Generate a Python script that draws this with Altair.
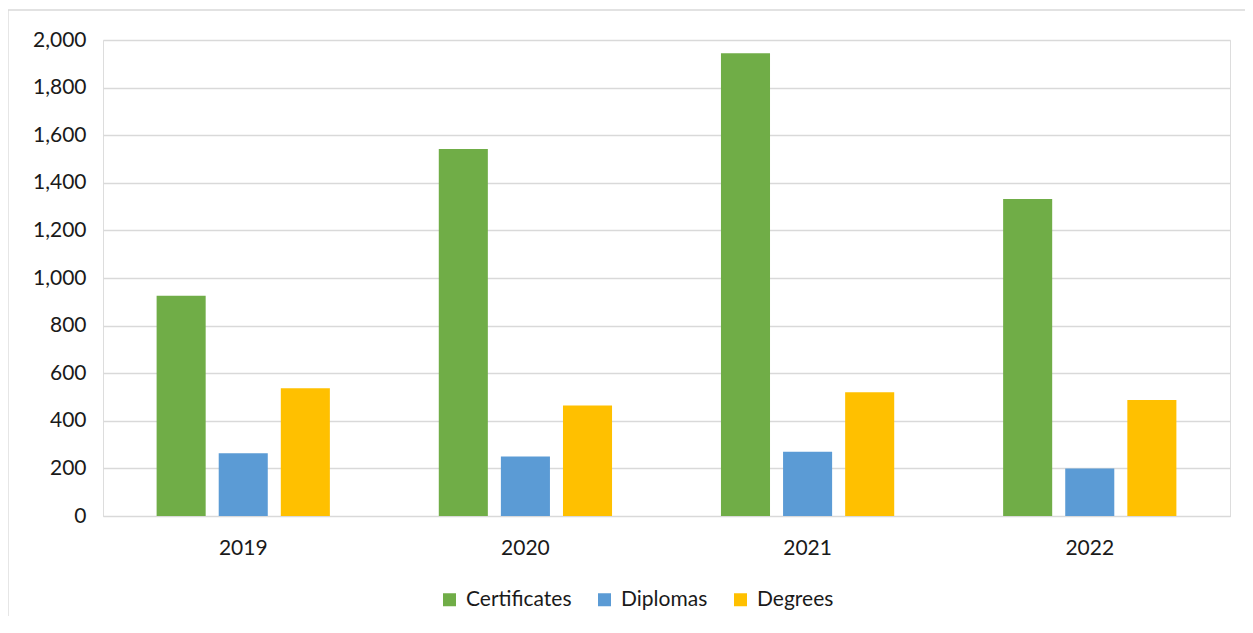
import altair as alt
import pandas as pd

years = ["2019", "2020", "2021", "2022"]
series = ["Certificates", "Diplomas", "Degrees"]
certificates = [925, 1542, 1944, 1332]
diplomas = [264, 250, 270, 200]
degrees = [537, 464, 520, 487]
colors = ["#70AD47", "#5B9BD5", "#FFC000"]

rows = []
for i, y in enumerate(years):
    rows.append({"year": y, "series": "Certificates", "value": certificates[i]})
    rows.append({"year": y, "series": "Diplomas", "value": diplomas[i]})
    rows.append({"year": y, "series": "Degrees", "value": degrees[i]})
df = pd.DataFrame(rows)

FONT = "Lato"
FS = 21

bars = alt.Chart(df).mark_bar().encode(
    x=alt.X("year:N", sort=years, title=None,
            scale=alt.Scale(paddingInner=0.386, paddingOuter=0.19),
            axis=alt.Axis(labelAngle=0, ticks=False, domain=True, domainColor="#d9d9d9",
                          labelPadding=21, labelFontSize=FS, labelColor="#1a1a1a", labelFont=FONT)),
    xOffset=alt.XOffset("series:N", sort=series,
                        scale=alt.Scale(paddingInner=0.21, paddingOuter=0)),
    y=alt.Y("value:Q", title=None,
            scale=alt.Scale(domain=[0, 2000], nice=False),
            axis=alt.Axis(values=list(range(0, 2001, 200)), format=",.0f", ticks=False, domain=False,
                          gridColor="#d9d9d9", gridWidth=1.3, labelPadding=17,
                          labelFontSize=FS, labelColor="#1a1a1a", labelFont=FONT)),
    color=alt.Color("series:N", sort=series,
                    scale=alt.Scale(domain=series, range=colors),
                    legend=alt.Legend(title=None, orient="none", direction="horizontal",
                                      legendX=336, legendY=549, symbolType="square",
                                      symbolSize=169, symbolStrokeWidth=0, labelFontSize=FS,
                                      labelFont=FONT, labelColor="#1a1a1a", columnPadding=22,
                                      labelOffset=6)),
)

border = alt.Chart(pd.DataFrame({"k": [0]})).mark_rect(
    fill=None, stroke="#d9d9d9", strokeWidth=1.3
).encode(
    x=alt.value(-95), x2=alt.value(1143), y=alt.value(-30), y2=alt.value(600)
)

chart = alt.layer(border, bars).properties(
    width=1127, height=476,
    autosize=alt.AutoSizeParams(type="none"),
    padding={"left": 95, "top": 32, "right": 15, "bottom": 100},
).configure_view(stroke=None).configure(background="white")

chart.save("out.html", embed_options={"renderer": "svg", "actions": False})
